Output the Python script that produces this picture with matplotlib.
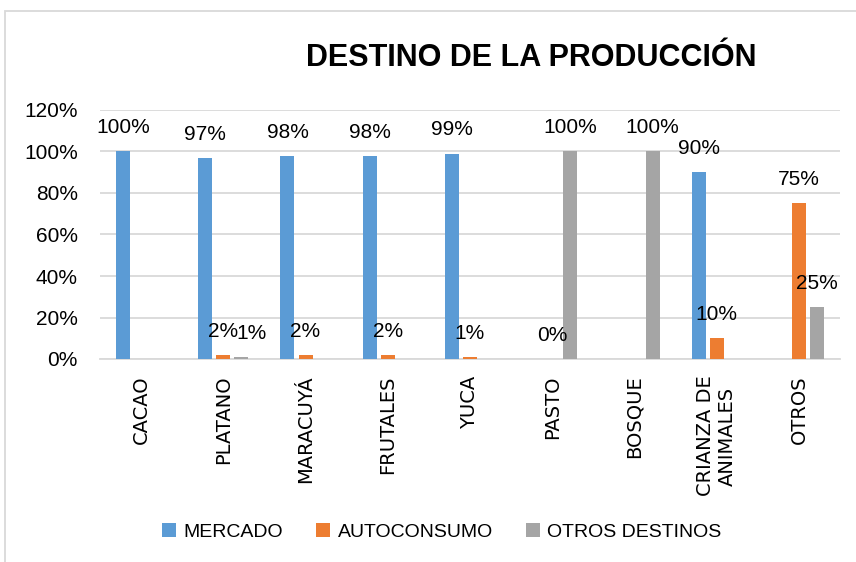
import matplotlib
matplotlib.use('Agg')
import matplotlib.pyplot as plt
import numpy as np
from matplotlib.patches import Rectangle

plt.rcParams['font.family'] = ['Liberation Sans', 'DejaVu Sans']

# Data
categorias = ['CACAO', 'PLATANO', 'MARACUYÁ', 'FRUTALES', 'YUCA', 'PASTO',
              'BOSQUE', 'CRIANZA DE\nANIMALES', 'OTROS']
mercado = [1.00, 0.97, 0.98, 0.98, 0.99, 0.00, 0.00, 0.90, 0.00]
autoconsumo = [0.00, 0.02, 0.02, 0.02, 0.01, 0.00, 0.00, 0.10, 0.75]
otros_destinos = [0.00, 0.01, 0.00, 0.00, 0.00, 1.00, 1.00, 0.00, 0.25]

# which data labels are shown in the original
ver_mercado = [1, 1, 1, 1, 1, 0, 0, 1, 0]
ver_auto = [0, 1, 1, 1, 1, 1, 0, 1, 1]
ver_otros = [0, 1, 0, 0, 0, 1, 1, 0, 1]

series = [
    ('MERCADO', mercado, ver_mercado, '#5B9BD5'),
    ('AUTOCONSUMO', autoconsumo, ver_auto, '#ED7D31'),
    ('OTROS DESTINOS', otros_destinos, ver_otros, '#A5A5A5'),
]

fig = plt.figure(figsize=(8.56, 5.62), dpi=100)
ax = fig.add_axes([100/856, 1-359/562, 740/856, 249/562])

x = np.arange(len(categorias))
offsets = [-0.22, 0.0, 0.22]
handles = []
for (nombre, vals, ver, color), off in zip(series, offsets):
    bars = ax.bar(x + off, vals, 0.17, color=color, label=nombre, zorder=3)
    handles.append(bars)
    for i, (b, v, s) in enumerate(zip(bars, vals, ver)):
        if not s:
            continue
        dx = 7 if (nombre == 'OTROS DESTINOS' and i == 1) else 0
        ax.annotate('{:.0%}'.format(v), (b.get_x() + b.get_width()/2, v),
                    xytext=(dx, 17), textcoords='offset points',
                    ha='center', va='center', fontsize=15, zorder=4)

ax.set_xlim(-0.5, len(categorias) - 0.5)
ax.set_ylim(0, 1.2)
ax.set_yticks(np.arange(0, 1.21, 0.2))
ax.set_yticklabels(['{:.0%}'.format(t) for t in np.arange(0, 1.21, 0.2)], fontsize=15)
ax.yaxis.grid(True, color='#D9D9D9', lw=1.3, zorder=0)
ax.set_axisbelow(True)
for s in ['top', 'right', 'left']:
    ax.spines[s].set_visible(False)
ax.spines['bottom'].set_color('#D9D9D9')
ax.spines['bottom'].set_linewidth(1.3)
ax.tick_params(axis='y', length=0, pad=16)
ax.set_xticks(x)
ax.set_xticklabels(categorias, rotation=90, fontsize=14, family='DejaVu Sans',
                   va='top', ha='center')
for lbl in ax.get_xticklabels():
    lbl.set_multialignment('center')
ax.tick_params(axis='x', length=0, pad=12)

fig.text(531/856, 1-58/562, 'DESTINO DE LA PRODUCCIÓN', ha='center', va='center',
         fontsize=22, fontweight='bold')

fig.legend(handles=handles, loc='center', bbox_to_anchor=(442/856, 1-532/562),
           ncol=3, frameon=False, fontsize=14, handlelength=0.7, handleheight=0.7,
           handletextpad=0.4, columnspacing=1.7)

fig.add_artist(Rectangle((5/856, -0.1), 1.0, 1-11/562+0.1, transform=fig.transFigure,
                         fill=False, ec='#D9D9D9', lw=1.3))

fig.savefig('out.png', dpi=100)
